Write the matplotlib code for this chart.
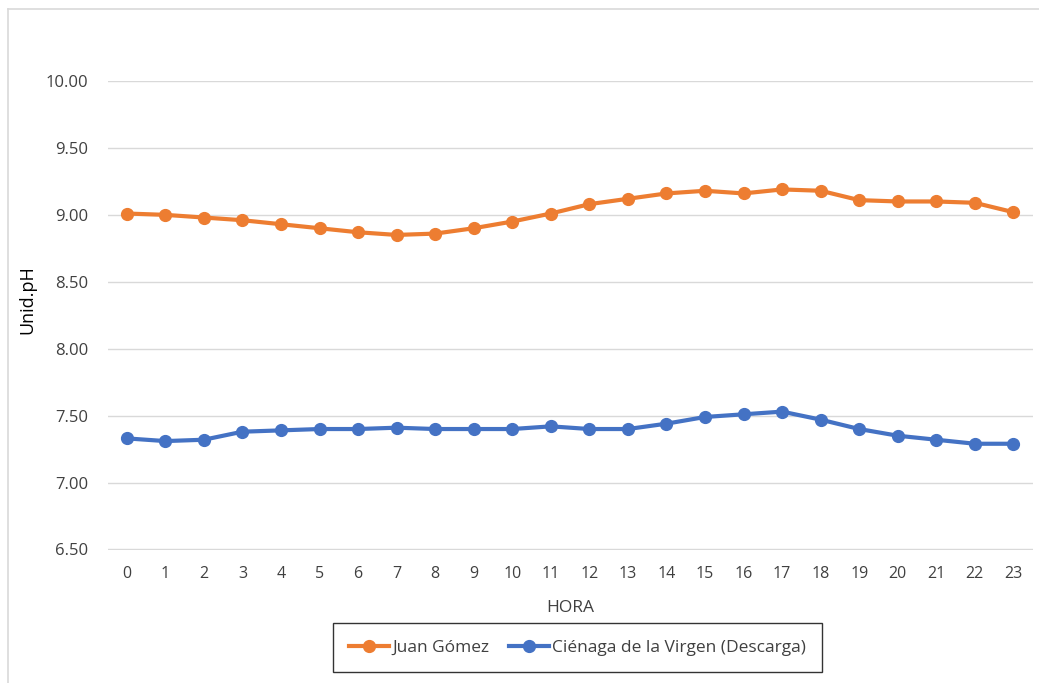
import matplotlib.pyplot as plt
from matplotlib.lines import Line2D

# hourly pH readings
horas = list(range(24))
juan_gomez = [9.01, 9.00, 8.98, 8.96, 8.93, 8.90, 8.87, 8.85, 8.86, 8.90, 8.95, 9.01,
              9.08, 9.12, 9.16, 9.18, 9.16, 9.19, 9.18, 9.11, 9.10, 9.10, 9.09, 9.02]
cienaga = [7.33, 7.31, 7.32, 7.38, 7.39, 7.40, 7.40, 7.41, 7.40, 7.40, 7.40, 7.42,
           7.40, 7.40, 7.44, 7.49, 7.51, 7.53, 7.47, 7.40, 7.35, 7.32, 7.29, 7.29]
yticks = [6.5, 7.0, 7.5, 8.0, 8.5, 9.0, 9.5, 10.0]

plt.rcParams['font.family'] = ['Open Sans', 'DejaVu Sans']

W, H = 1039, 683
fig = plt.figure(figsize=(W / 100, H / 100), dpi=100)
ax = fig.add_axes([107.5 / W, 1 - 549.5 / H, (1032.7 - 107.5) / W, (549.5 - 81) / H])

orange = '#ED7D31'
blue = '#4472C4'
ax.plot(horas, juan_gomez, color=orange, lw=3, marker='o', ms=8.5, label='Juan Gómez', zorder=3)
ax.plot(horas, cienaga, color=blue, lw=3, marker='o', ms=8.5,
        label='Ciénaga de la Virgen (Descarga)', zorder=3)

ax.set_xlim(-0.5, 23.5)
ax.set_ylim(6.5, 10.0)
ax.set_xticks(horas)
ax.set_xticklabels([str(h) for h in horas])
ax.set_yticks(yticks)
ax.set_yticklabels([f'{v:.2f}' for v in yticks])
ax.tick_params(length=0, labelsize=11.5, colors='#404040')
ax.tick_params(axis='x', pad=12)
ax.tick_params(axis='y', pad=14, labelsize=12)
ax.grid(axis='y', color='#D9D9D9', lw=1, zorder=0)
ax.set_axisbelow(True)
for s in ax.spines.values():
    s.set_visible(False)

ax.set_xlabel('HORA', fontsize=12.5, color='#404040', labelpad=13)
ax.set_ylabel('Unid.pH', fontsize=13, color='#000000')
ax.yaxis.set_label_coords(36 / W, 1 - 300 / H, transform=fig.transFigure)

handles = [Line2D([], [], color=orange, lw=3, marker='o', ms=8.5),
           Line2D([], [], color=blue, lw=3, marker='o', ms=8.5)]
leg = fig.legend(handles, ['Juan Gómez', 'Ciénaga de la Virgen (Descarga)'],
                 loc='center', bbox_to_anchor=(577.5 / W, 1 - 647.5 / H), ncol=2,
                 frameon=True, fancybox=False, fontsize=12.5, handlelength=2.3,
                 handletextpad=0.2, columnspacing=1.1, borderpad=0.95,
                 borderaxespad=0)
leg.get_frame().set_edgecolor('#000000')
leg.get_frame().set_linewidth(1.0)
for t in leg.get_texts():
    t.set_color('#404040')

# chart area border (left and top edges)
fig.add_artist(Line2D([8 / W, 8 / W], [0, 1 - 9 / H], color='#D9D9D9', lw=1.2))
fig.add_artist(Line2D([8 / W, 1], [1 - 9 / H, 1 - 9 / H], color='#D9D9D9', lw=1.2))

fig.savefig('out.png', dpi=100, facecolor='white')
